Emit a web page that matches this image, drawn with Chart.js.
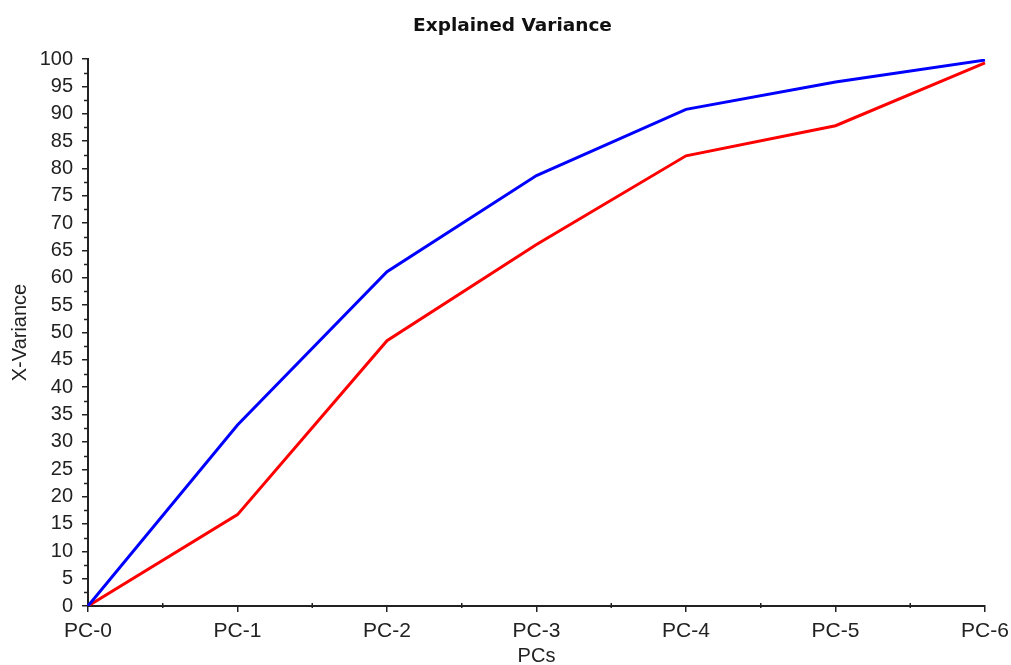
<!DOCTYPE html>
<html>
<head>
<meta charset="utf-8">
<script src="https://cdn.jsdelivr.net/npm/chart.js@4.4.1/dist/chart.umd.min.js"></script>
<style>
  html, body { margin: 0; padding: 0; background: #fff; }
  #wrap { width: 1011px; height: 665px; }
</style>
</head>
<body>
<div id="wrap"><canvas id="chart" width="1011" height="665"></canvas></div>
<script>
// Dados
const chartTitle = 'Explained Variance';
const components = ['PC-0', 'PC-1', 'PC-2', 'PC-3', 'PC-4', 'PC-5', 'PC-6'];
const blueVariance = [0, 33.1, 61.1, 78.7, 90.8, 95.8, 99.8];
const redVariance = [0, 16.7, 48.5, 66.1, 82.3, 87.8, 99.3];
const yTicks = [0, 5, 10, 15, 20, 25, 30, 35, 40, 45, 50, 55, 60, 65, 70, 75, 80, 85, 90, 95, 100];

// Título desenhado à mão (centralizado na imagem, não na área do gráfico)
const titlePlugin = {
    id: 'titlePlugin',
    afterDraw(chart) {
        const ctx = chart.ctx;
        ctx.save();
        ctx.fillStyle = '#111';
        ctx.font = 'bold 18.5px "DejaVu Sans"';
        ctx.textAlign = 'center';
        ctx.textBaseline = 'middle';
        ctx.fillText(chartTitle, chart.width / 2 + 7, 26);
        ctx.restore();
    }
};

// Pequenos traços entre os ticks principais
const minorTicks = {
    id: 'minorTicks',
    afterDraw(chart) {
        const ctx = chart.ctx;
        const x = chart.scales.x;
        const y = chart.scales.y;
        ctx.save();
        ctx.strokeStyle = '#222';
        ctx.lineWidth = 1.5;
        ctx.beginPath();
        for (let i = 0; i < yTicks.length - 1; i++) {
            const v = (yTicks[i] + yTicks[i + 1]) / 2;
            const py = Math.round(y.getPixelForValue(v)) + 0.5;
            ctx.moveTo(y.right, py);
            ctx.lineTo(y.right - 4, py);
        }
        for (let i = 0; i < components.length - 1; i++) {
            const px = (x.getPixelForValue(i) + x.getPixelForValue(i + 1)) / 2;
            ctx.moveTo(px, x.top + 2);
            ctx.lineTo(px, x.top - 3);
        }
        ctx.stroke();
        ctx.restore();
    }
};

const ctx = document.getElementById('chart').getContext('2d');
const chart = new Chart(ctx, {
    type: 'line',
    data: {
        labels: components,
        datasets: [
            {
                label: 'Blue',
                data: blueVariance,
                borderColor: '#0000ff',
                borderWidth: 3,
                pointRadius: 0,
                tension: 0
            },
            {
                label: 'Red',
                data: redVariance,
                borderColor: '#ff0000',
                borderWidth: 3,
                pointRadius: 0,
                tension: 0
            }
        ]
    },
    options: {
        responsive: false,
        animation: false,
        layout: { padding: { left: 0, right: 26, top: 59, bottom: 0 } },
        plugins: {
            legend: { display: false },
            tooltip: { enabled: false },
            title: { display: false }
        },
        scales: {
            x: {
                offset: false,
                afterFit: function(scale) {
                    scale.height = 59;
                    scale.paddingRight = 0;
                    scale.paddingLeft = 0;
                },
                border: { color: '#222', width: 2 },
                grid: { display: true, drawOnChartArea: false, drawTicks: true, tickLength: 6, color: '#222', lineWidth: 1.5 },
                ticks: {
                    color: '#222',
                    font: { family: 'Liberation Sans', size: 21 },
                    padding: 7,
                    maxRotation: 0
                },
                title: {
                    display: true,
                    text: 'PCs',
                    color: '#222',
                    font: { family: 'Liberation Sans', size: 20 },
                    padding: { top: 0, bottom: -3 }
                }
            },
            y: {
                min: 0,
                max: 100,
                afterBuildTicks: function(scale) {
                    scale.ticks = yTicks.map(v => ({ value: v }));
                },
                afterFit: function(scale) {
                    scale.width = 88;
                },
                border: { color: '#222', width: 2 },
                grid: { display: true, drawOnChartArea: false, drawTicks: true, tickLength: 6, color: '#222', lineWidth: 1.5 },
                ticks: {
                    color: '#222',
                    font: { family: 'Liberation Sans', size: 20 },
                    padding: 9
                },
                title: {
                    display: true,
                    text: 'X-Variance',
                    color: '#222',
                    font: { family: 'Liberation Sans', size: 20 },
                    padding: { top: 8, bottom: 0 }
                }
            }
        }
    },
    plugins: [minorTicks, titlePlugin]
});
</script>
</body>
</html>
